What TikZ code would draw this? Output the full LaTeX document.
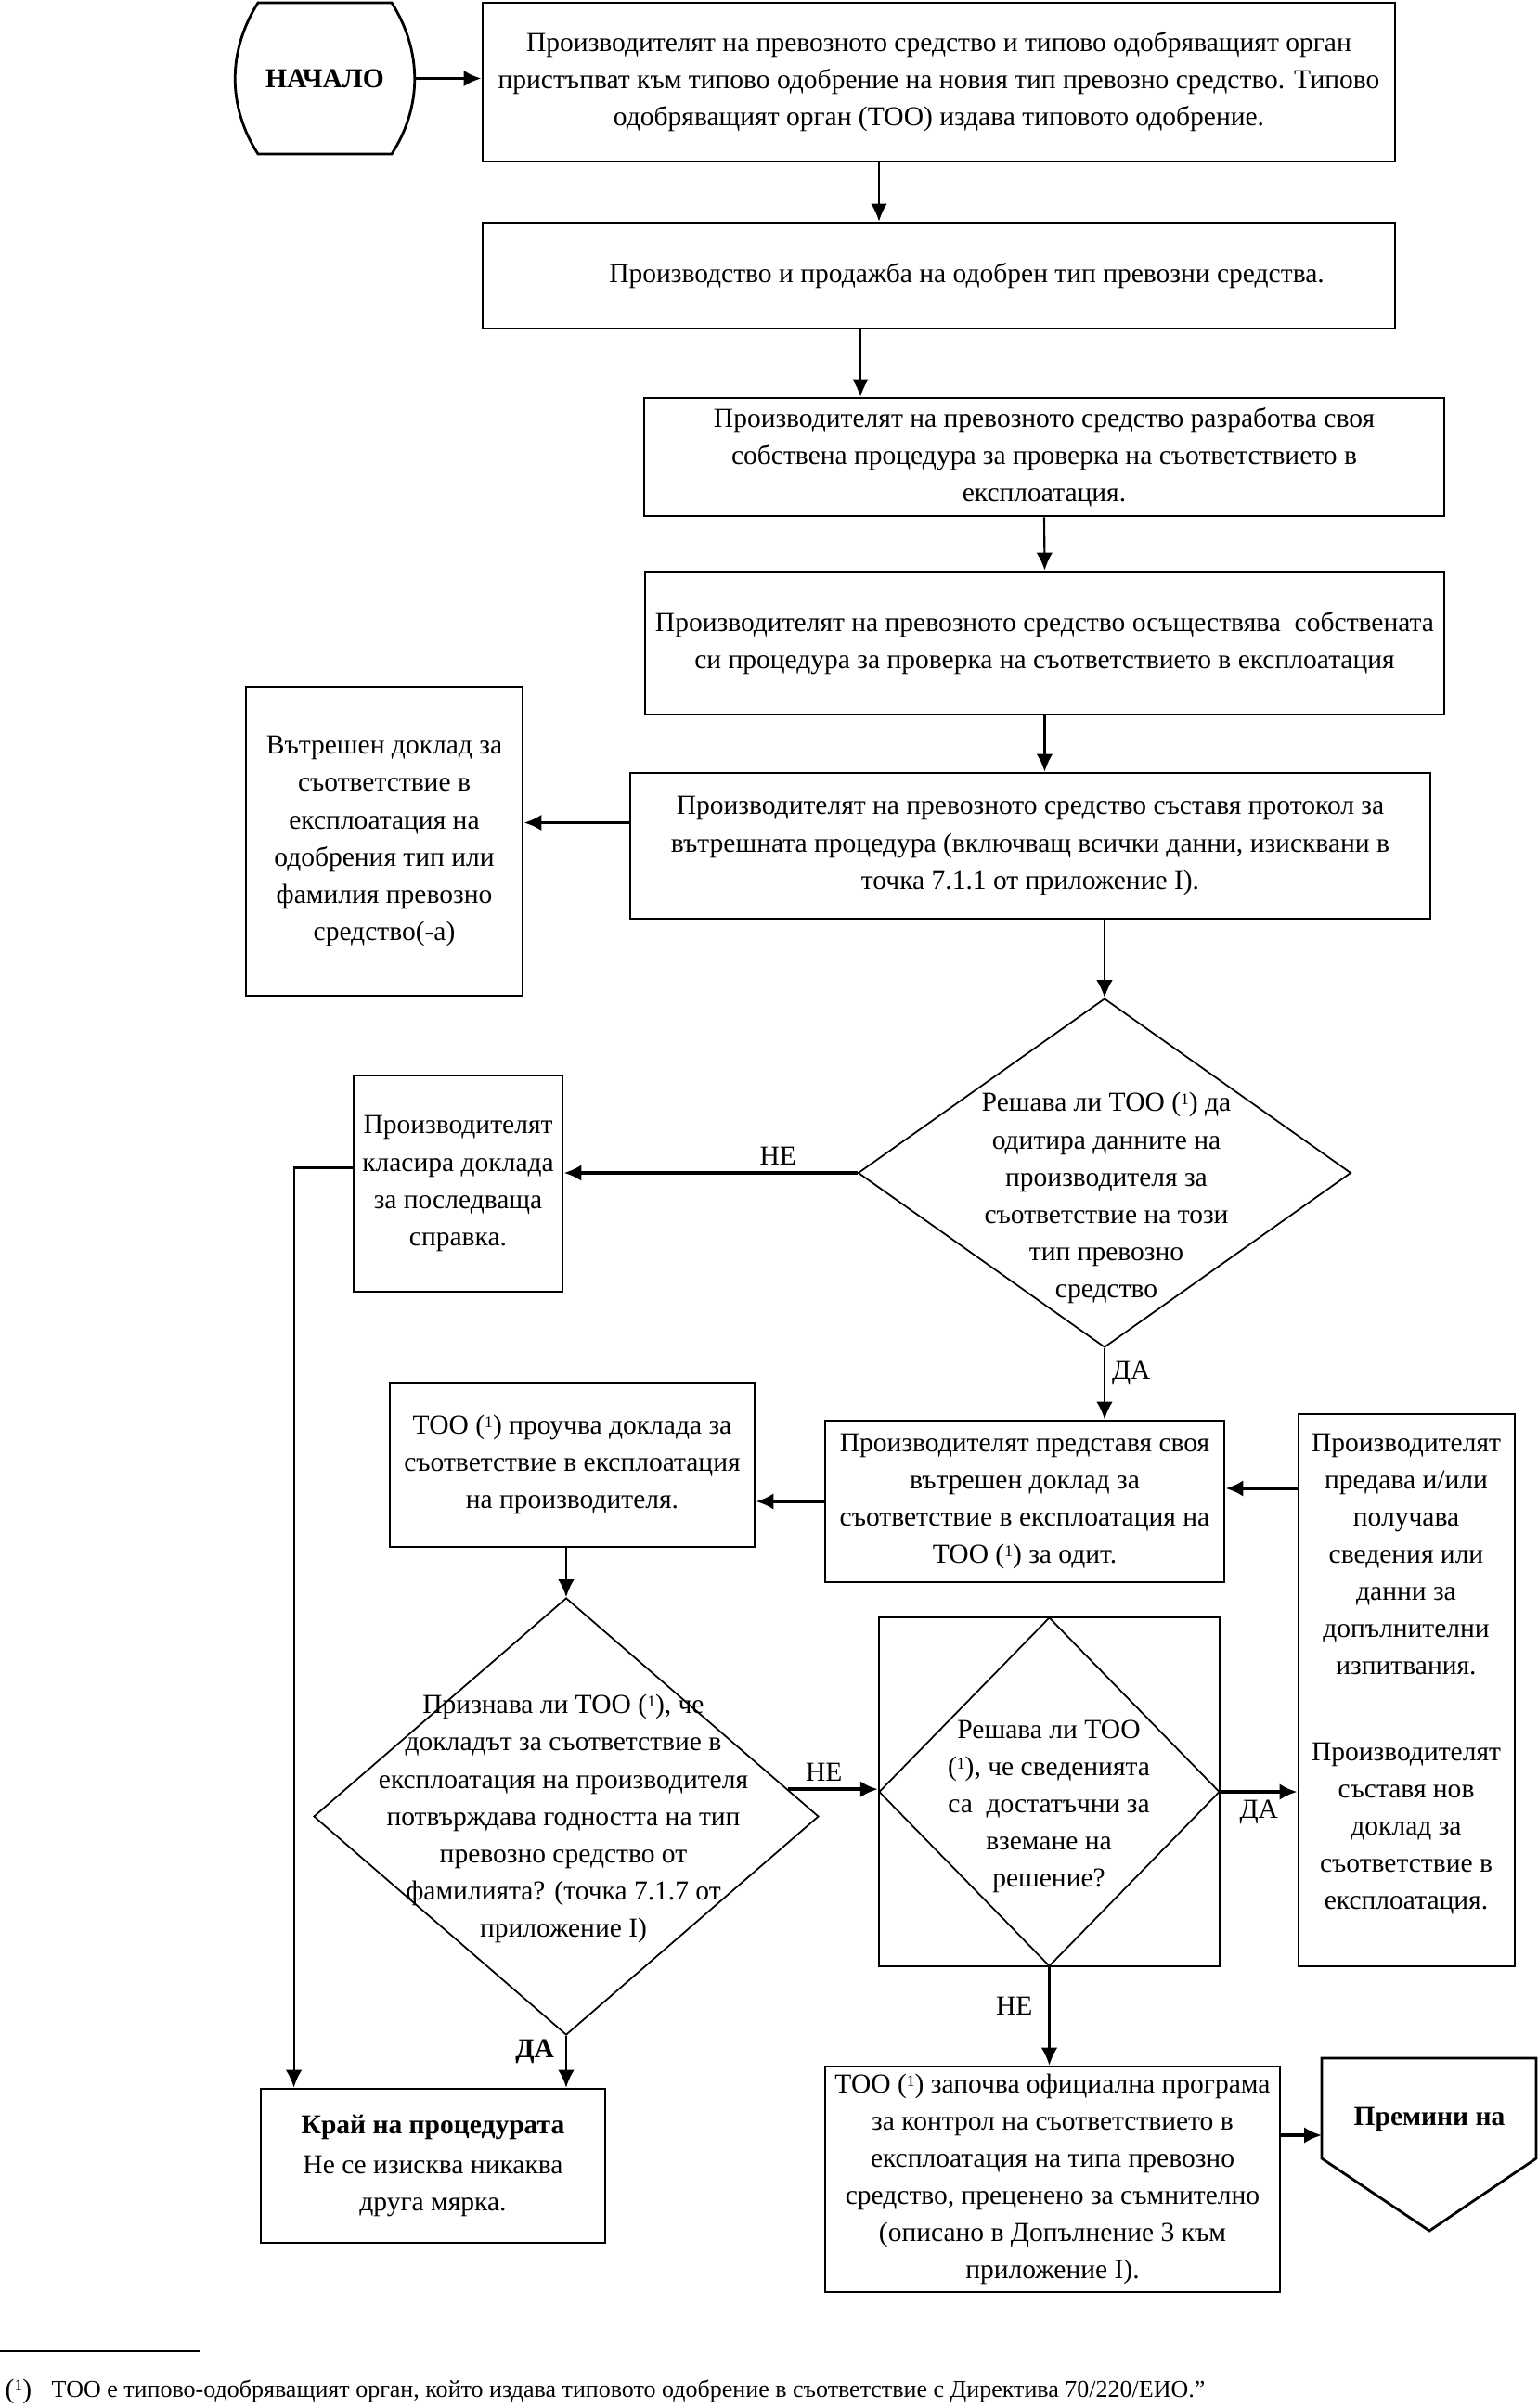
\documentclass[tikz,border=0pt]{standalone}
\usepackage{fontspec}
\setmainfont{Liberation Serif}
\usetikzlibrary{arrows.meta,shapes.geometric}

\newcommand{\supone}{\raisebox{0.55ex}{\fontsize{5}{5}\selectfont 1}}
\newcommand{\toomark}{ТОО (\supone)}

\begin{document}
\begin{tikzpicture}[>={Latex[length=5.4pt,width=5pt]},
  txt/.style={align=center,inner sep=0pt,font=\fontsize{8.4}{11.4}\selectfont},
  box/.style={txt,draw,line width=0.8pt},
  decision/.style={diamond,draw,line width=0.5pt,inner sep=0pt},
  vflow/.style={->,line width=0.6pt},
  hflow/.style={->,line width=1.1pt},
  lbl/.style={font=\fontsize{8.4}{11.4}\selectfont,inner sep=2pt},
  lblb/.style={font=\fontsize{8.4}{11.4}\selectfont\bfseries,inner sep=2pt}]
  \useasboundingbox (0,0) rectangle (16.57,-25.95);
  % start symbol
  \node[txt,font=\fontsize{8.4}{11.4}\selectfont\bfseries,minimum width=1.94cm,minimum height=1.63cm] (start) at (3.50,-0.845) {НАЧАЛО};
  \draw[line width=0.8pt] (2.78,-0.03) -- (4.22,-0.03) .. controls (4.55,-0.55) and (4.55,-1.15) .. (4.22,-1.66)
    -- (2.78,-1.66) .. controls (2.45,-1.15) and (2.45,-0.55) .. (2.78,-0.03) -- cycle;
  % main column
  \node[box,minimum width=9.83cm,minimum height=1.71cm] (box1) at (10.115,-0.885)
    {Производителят на превозното средство и типово одобряващият орган\\
     пристъпват към типово одобрение на новия тип превозно средство. Типово\\
     одобряващият орган (ТОО) издава типовото одобрение.};
  \node[box,minimum width=9.83cm,minimum height=1.14cm] (box2) at (10.115,-2.97)
    {\hspace*{6mm}Производство и продажба на одобрен тип превозни средства.};
  \node[box,minimum width=8.62cm,minimum height=1.27cm] (box3) at (11.25,-4.925)
    {Производителят на превозното средство разработва своя\\
     собствена процедура за проверка на съответствието в\\
     експлоатация.};
  \node[box,minimum width=8.61cm,minimum height=1.54cm] (box4) at (11.255,-6.93)
    {Производителят на превозното средство осъществява\ \ собствената\\
     си процедура за проверка на съответствието в експлоатация};
  \node[box,minimum width=8.62cm,minimum height=1.57cm] (box5) at (11.10,-9.115)
    {Производителят на превозното средство съставя протокол за\\
     вътрешната процедура (включващ всички данни, изисквани в\\
     точка 7.1.1 от приложение I).};
  \node[box,minimum width=2.98cm,minimum height=3.33cm] (box6) at (4.14,-9.065)
    {Вътрешен доклад за\\ съответствие в\\ експлоатация на\\ одобрения тип или\\ фамилия превозно\\ средство(-а)};
  % first decision
  \node[decision,minimum width=5.31cm,minimum height=3.76cm] (dia1) at (11.90,-12.64) {};
  \node[txt] (dia1txt) at (11.92,-12.91)
    {Решава ли \toomark{} да\\ одитира данните на\\ производителя за\\ съответствие на този\\ тип превозно\\ средство};
  \node[box,minimum width=2.25cm,minimum height=2.33cm] (box7) at (4.935,-12.755)
    {Производителят\\ класира доклада\\ за последваща\\ справка.};
  \node[box,minimum width=4.30cm,minimum height=1.74cm] (box9) at (11.04,-16.18)
    {Производителят представя своя\\ вътрешен доклад за\\ съответствие в експлоатация на\\ \toomark{} за одит.};
  \node[box,minimum width=3.93cm,minimum height=1.77cm] (box10) at (6.165,-15.785)
    {\toomark{} проучва доклада за\\ съответствие в експлоатация\\ на производителя.};
  \node[box,minimum width=2.33cm,minimum height=5.95cm] (box11) at (15.155,-18.215) {};
  \node[txt] (box11a) at (15.15,-16.75)
    {Производителят\\ предава и/или\\ получава\\ сведения или\\ данни за\\ допълнителни\\ изпитвания.};
  \node[txt] (box11b) at (15.15,-19.71)
    {Производителят\\ съставя нов\\ доклад за\\ съответствие в\\ експлоатация.};
  % second and third decision
  \node[decision,minimum width=5.44cm,minimum height=4.71cm] (dia2) at (6.10,-19.575) {};
  \node[txt] (dia2txt) at (6.07,-19.60)
    {Признава ли \toomark, че\\ докладът за съответствие в\\ експлоатация на производителя\\ потвърждава годността на тип\\ превозно средство от\\ фамилията? (точка 7.1.7 от\\ приложение I)};
  \node[box,line width=0.6pt,minimum width=3.67cm,minimum height=3.76cm] (box12) at (11.305,-19.31) {};
  \node[decision,minimum width=3.67cm,minimum height=3.76cm] (dia3) at (box12) {};
  \node[txt] (dia3txt) at (11.30,-19.47)
    {Решава ли ТОО\\ (\supone), че сведенията\\ са\ \ достатъчни за\\ вземане на\\ решение?};
  % end boxes
  \node[box,minimum width=3.71cm,minimum height=1.66cm] (box8) at (4.665,-23.34)
    {{\bfseries Край на процедурата}\\[1pt] Не се изисква никаква\\ друга мярка.};
  \node[box,minimum width=4.90cm,minimum height=2.43cm] (box13) at (11.34,-23.485)
    {\toomark{} започва официална програма\\ за контрол на съответствието в\\ експлоатация на типа превозно\\ средство, преценено за съмнително\\ (описано в Допълнение 3 към\\ приложение I).};
  \node[txt,font=\fontsize{8.4}{11.4}\selectfont\bfseries] (goto) at (15.40,-22.84) {Премини на};
  \draw[line width=0.8pt] (14.24,-22.18) -- (16.55,-22.18) -- (16.55,-23.26) -- (15.40,-24.04) -- (14.24,-23.26) -- cycle;
  \coordinate (gotoin) at (14.24,-23.01);
  % connectors
  \coordinate (a12) at ([xshift=-6.45mm]box1.south);
  \coordinate (a23) at ([xshift=-8.45mm]box2.south);
  \coordinate (a56) at ([yshift=2.5mm]box5.west);
  \coordinate (a78) at ([yshift=1.7mm]box7.west);
  \coordinate (a119) at ([yshift=1.4mm]box9.east);
  \draw[hflow] (start.east) -- (start.east -| box1.west);
  \draw[vflow] (a12) -- (a12 |- box2.north);
  \draw[vflow] (a23) -- (a23 |- box3.north);
  \draw[vflow] (box3.south) -- (box4.north);
  \draw[vflow] (box4.south) -- (box4.south |- box5.north);
  \draw[hflow] (a56) -- (a56 -| box6.east);
  \draw[vflow] (dia1.north |- box5.south) -- (dia1.north);
  \draw[hflow] (dia1.west) -- (dia1.west -| box7.east) node[lbl,pos=0.27,above] {НЕ};
  \draw[vflow] (a78) -| ([xshift=3.7mm]box8.north west);
  \draw[vflow] (dia1.south) -- (dia1.south |- box9.north) node[lbl,pos=0.35,right] {ДА};
  \draw[hflow] (a119 -| box11.west) -- (a119);
  \draw[hflow] (box9.west) -- (box9.west -| box10.east);
  \draw[vflow] (dia2.north |- box10.south) -- (dia2.north);
  \draw[hflow] (dia2.7) -- (dia2.7 -| box12.west) node[lbl,pos=0.4,above] {НЕ};
  \draw[hflow] (box12.east) -- (box12.east -| box11.west) node[lbl,midway,below] {ДА};
  \draw[vflow] (box12.south) -- (box12.south |- box13.north) node[lbl,pos=0.4,left,xshift=-1mm] {НЕ};
  \draw[vflow] (dia2.south) -- (dia2.south |- box8.north) node[lblb,pos=0.3,left,xshift=-0.5mm] {ДА};
  \draw[hflow] (box13.east |- gotoin) -- (gotoin);
  % footnote
  \draw[line width=0.6pt] (0,-25.34) -- (2.15,-25.34);
  \node[txt,anchor=west] (fnmark) at (0.05,-25.77) {(\supone)};
  \node[txt,anchor=west,font=\fontsize{7.4}{9}\selectfont] (fntext) at (0.55,-25.77)
    {ТОО е типово-одобряващият орган, който издава типовото одобрение в съответствие с Директива 70/220/ЕИО.”};
\end{tikzpicture}
\end{document}
